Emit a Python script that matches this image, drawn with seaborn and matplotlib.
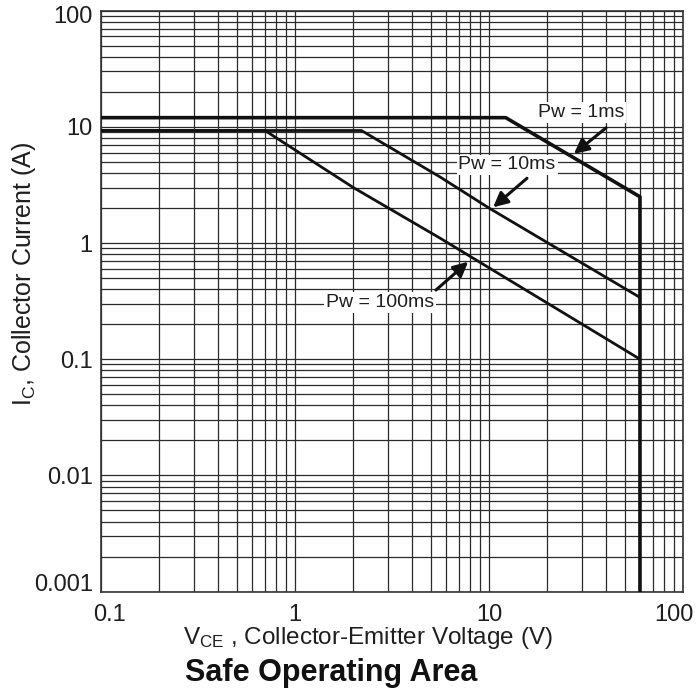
import numpy as np
import pandas as pd
import matplotlib
matplotlib.use("Agg")
import matplotlib.pyplot as plt
import matplotlib.transforms as mtransforms
import seaborn as sns

# SOA curves (V, A)
VCE_1MS = [0.1, 12.2, 60, 60]
IC_1MS = [12.0, 12.0, 2.5, 0.001]

VCE_10MS = [0.1, 2.2, 5.6, 10, 60]
IC_10MS = [9.3, 9.3, 3.7, 2.0, 0.34]

VCE_100MS = [0.1, 0.7, 2.0, 5.6, 60]
IC_100MS = [9.3, 9.3, 3.0, 1.1, 0.1]

X_TICKS = [0.1, 1, 10, 100]
X_TICK_LABELS = ["0.1", "1", "10", "100"]
Y_TICKS = [0.001, 0.01, 0.1, 1, 10, 100]
Y_TICK_LABELS = ["0.001", "0.01", "0.1", "1", "10", "100"]

# label text, text centre, arrow tail, arrow tip
ANNOTATIONS = [
    ("Pw = 1ms", (29.8, 13.2), (40.1, 9.8), (27.4, 5.85)),
    ("Pw = 10ms", (12.4, 4.7), (15.7, 3.61), (10.5, 2.03)),
    ("Pw = 100ms", (2.73, 0.31), (5.33, 0.394), (7.81, 0.69)),
]

sns.set_theme(style="white")
plt.rcParams["font.family"] = ["Liberation Sans", "DejaVu Sans"]
plt.rcParams["mathtext.fontset"] = "custom"
plt.rcParams["mathtext.rm"] = "Liberation Sans"
plt.rcParams["mathtext.it"] = "Liberation Sans:italic"

TXT = "#1e1e1e"

fig = plt.figure(figsize=(6.96, 6.94), dpi=100)
ax = fig.add_axes([101 / 696, 1 - 591.5 / 694, 582 / 696, 580.8 / 694])

curves = [
    (VCE_1MS, IC_1MS, 2.6),
    (VCE_10MS, IC_10MS, 2.0),
    (VCE_100MS, IC_100MS, 2.0),
]
for vce, ic, lw in curves:
    df = pd.DataFrame({"vce": vce, "ic": ic})
    sns.lineplot(data=df, x="vce", y="ic", sort=False, estimator=None,
                 color="#111111", lw=lw, ax=ax, zorder=3)

ax.set(xscale="log", yscale="log", xlim=(0.1, 100), ylim=(0.001, 100))
ax.grid(True, which="both", color="#2a2a2a", lw=0.9)
for s in ax.spines.values():
    s.set_color("#333333")
    s.set_linewidth(1.2)

ax.set_xticks(X_TICKS, X_TICK_LABELS)
ax.set_yticks(Y_TICKS, Y_TICK_LABELS)
ax.tick_params(axis="both", which="both", length=0, labelsize=17,
               labelcolor=TXT)
ax.tick_params(axis="x", pad=9)
ax.tick_params(axis="y", pad=6)

# corner labels pulled inward like the original
xl = ax.get_xticklabels()
xl[0].set_transform(xl[0].get_transform() + mtransforms.ScaledTranslation(9 / 100, 0, fig.dpi_scale_trans))
xl[-1].set_transform(xl[-1].get_transform() + mtransforms.ScaledTranslation(-9 / 100, 0, fig.dpi_scale_trans))
yl = ax.get_yticklabels()
yl[0].set_transform(yl[0].get_transform() + mtransforms.ScaledTranslation(0, 9 / 100, fig.dpi_scale_trans))
yl[-1].set_transform(yl[-1].get_transform() + mtransforms.ScaledTranslation(0, -4 / 100, fig.dpi_scale_trans))

ax.set_xlabel(r"V$_\mathrm{CE}$ , Collector-Emitter Voltage (V)", fontsize=17.5,
              color=TXT)
ax.xaxis.set_label_coords((368 - 101) / 582, -(638 - 591.5) / 580.8)
ax.xaxis.label.set_va("center")
ax.set_ylabel(r"I$_\mathrm{C}$, Collector Current (A)", fontsize=18, color=TXT)
ax.yaxis.set_label_coords(-(101 - 24) / 582, (591.5 - 274) / 580.8)
ax.yaxis.label.set_va("center")

for label, txt_xy, tail, tip in ANNOTATIONS:
    ax.text(*txt_xy, label, ha="center", va="center", fontsize=14,
            color=TXT, zorder=5,
            bbox=dict(boxstyle="square,pad=0.1", fc="white", ec="none"))
    ax.annotate("", xy=tip, xytext=tail, zorder=6,
                arrowprops=dict(arrowstyle="-|>", color="#111111", lw=2.2,
                                mutation_scale=22, shrinkA=0, shrinkB=0))

fig.text(331 / 696, 1 - 673 / 694, "Safe Operating Area", ha="center",
         va="center", fontsize=22, fontweight="bold", color="#111111")

fig.savefig("out.png", dpi=100)
